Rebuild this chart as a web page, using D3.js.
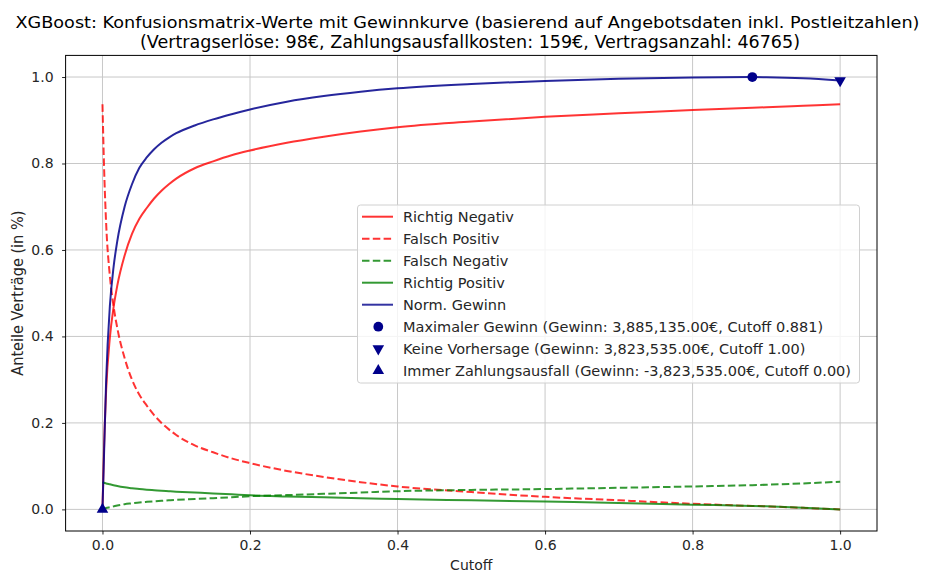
<!DOCTYPE html>
<html><head><meta charset="utf-8">
<script src="https://cdn.jsdelivr.net/npm/d3@7"></script>
<style>
html,body{margin:0;padding:0;background:#fff;}
svg{display:block;font-family:"DejaVu Sans",sans-serif;}
</style></head>
<body><svg id="c" width="926" height="572"></svg>
<script>
// ---- data ----
const titleLines = ["XGBoost: Konfusionsmatrix-Werte mit Gewinnkurve (basierend auf Angebotsdaten inkl. Postleitzahlen)",
                    "(Vertragserlöse: 98€, Zahlungsausfallkosten: 159€, Vertragsanzahl: 46765)"];
const xLabel = "Cutoff";
const yLabel = "Anteile Verträge (in %)";
const xTicks = [0.0, 0.2, 0.4, 0.6, 0.8, 1.0];
const yTicks = [0.0, 0.2, 0.4, 0.6, 0.8, 1.0];

const cutoff = [0, 0.002, 0.005, 0.01, 0.015, 0.02, 0.03, 0.04, 0.05, 0.06, 0.07, 0.08, 0.09, 0.1, 0.125, 0.15, 0.175, 0.2, 0.25, 0.3, 0.35, 0.4, 0.5, 0.6, 0.7, 0.8, 0.881, 0.9, 0.95, 1.0];
const richtigNegativ = [0, 0.137, 0.277, 0.397, 0.467, 0.517, 0.587, 0.637, 0.672, 0.697, 0.719, 0.737, 0.752, 0.765, 0.789, 0.805, 0.819, 0.83, 0.848, 0.862, 0.874, 0.884, 0.897, 0.908, 0.916, 0.924, 0.929, 0.93, 0.9335, 0.937];
const falschPositiv = [0.937, 0.80, 0.66, 0.54, 0.47, 0.42, 0.35, 0.30, 0.265, 0.24, 0.218, 0.20, 0.185, 0.172, 0.148, 0.132, 0.118, 0.107, 0.089, 0.075, 0.063, 0.053, 0.04, 0.029, 0.021, 0.013, 0.008, 0.007, 0.0035, 0.0];
const falschNegativ = [0, 0.0015, 0.003, 0.005, 0.007, 0.009, 0.012, 0.014, 0.016, 0.0175, 0.0188, 0.020, 0.021, 0.022, 0.024, 0.026, 0.028, 0.0305, 0.033, 0.036, 0.039, 0.042, 0.045, 0.047, 0.050, 0.053, 0.056, 0.057, 0.060, 0.064];
const richtigPositiv = [0.063, 0.0615, 0.060, 0.058, 0.056, 0.054, 0.051, 0.049, 0.047, 0.0455, 0.0443, 0.043, 0.042, 0.041, 0.039, 0.037, 0.0348, 0.0325, 0.030, 0.028, 0.026, 0.024, 0.021, 0.018, 0.015, 0.011, 0.008, 0.007, 0.004, 0.0];
const normGewinn = [0, 0.12, 0.30, 0.47, 0.56, 0.62, 0.70, 0.752, 0.79, 0.814, 0.833, 0.848, 0.86, 0.87, 0.888, 0.902, 0.914, 0.925, 0.943, 0.956, 0.966, 0.974, 0.984, 0.991, 0.996, 0.999, 1.0, 0.9995, 0.997, 0.992];

const markerNames = ["Maximaler Gewinn (Gewinn: 3,885,135.00€, Cutoff 0.881)",
                     "Keine Vorhersage (Gewinn: 3,823,535.00€, Cutoff 1.00)",
                     "Immer Zahlungsausfall (Gewinn: -3,823,535.00€, Cutoff 0.00)"];
const markerX = [0.881, 1.0, 0.0];
const markerY = [1.0, 0.992, 0.0];
const markerShapes = ["circle", "triDown", "triUp"];

const seriesNames = ["Richtig Negativ", "Falsch Positiv", "Falsch Negativ", "Richtig Positiv", "Norm. Gewinn"];
const seriesValues = [richtigNegativ, falschPositiv, falschNegativ, richtigPositiv, normGewinn];
const seriesColors = ["#ff0000", "#ff0000", "#008000", "#008000", "#00008b"];
const seriesDashed = [false, true, true, false, false];

// ---- layout ----
const svg = d3.select("#c");
const L = 65.6, R = 877, T = 55.4, B = 531;
const x = d3.scaleLinear().domain([-0.05, 1.05]).range([L, R]);
const y = d3.scaleLinear().domain([-0.05, 1.05]).range([B, T]);

// grid
const g = svg.append("g");
g.selectAll("line.vg").data(xTicks).join("line")
  .attr("x1", d => x(d)).attr("x2", d => x(d)).attr("y1", T).attr("y2", B)
  .attr("stroke", "#c8c8c8").attr("stroke-width", 1);
g.selectAll("line.hg").data(yTicks).join("line")
  .attr("y1", d => y(d)).attr("y2", d => y(d)).attr("x1", L).attr("x2", R)
  .attr("stroke", "#c8c8c8").attr("stroke-width", 1);

// axes
const fmt = d3.format(".1f");
const xa = svg.append("g").attr("transform", `translate(0,${B})`)
  .call(d3.axisBottom(x).tickValues(xTicks).tickFormat(fmt).tickSize(3.5).tickPadding(6));
const ya = svg.append("g").attr("transform", `translate(${L},0)`)
  .call(d3.axisLeft(y).tickValues(yTicks).tickFormat(fmt).tickSize(3.5).tickPadding(8.5));
[xa, ya].forEach(a => {
  a.select(".domain").remove();
  a.selectAll("text").attr("font-size", 14).attr("fill", "#262626").attr("font-family", "DejaVu Sans");
  a.selectAll("line").attr("stroke", "#262626");
});

// lines
const lineGen = d3.line().x((d, i) => x(cutoff[i])).y(d => y(d)).curve(d3.curveMonotoneX);
seriesValues.forEach((vals, k) => {
  svg.append("path").datum(vals)
    .attr("d", lineGen)
    .attr("fill", "none")
    .attr("stroke", seriesColors[k])
    .attr("stroke-opacity", k === 4 ? 0.85 : 0.8)
    .attr("stroke-width", 2)
    .attr("stroke-dasharray", seriesDashed[k] ? "7.5,3.3" : null);
});

// markers
const sym = {circle: d3.symbolCircle, triDown: d3.symbolTriangle, triUp: d3.symbolTriangle};
function drawMarker(sel, shape, cx, cy) {
  const s = sel.append("path")
    .attr("d", d3.symbol().type(sym[shape]).size(shape === "circle" ? 75 : 58)())
    .attr("fill", "#00008b");
  s.attr("transform", `translate(${cx},${cy})` + (shape === "triDown" ? " rotate(180)" : ""));
}
markerNames.forEach((n, i) => drawMarker(svg, markerShapes[i], x(markerX[i]), y(markerY[i])));

// frame
svg.append("rect").attr("x", L).attr("y", T).attr("width", R - L).attr("height", B - T)
  .attr("fill", "none").attr("stroke", "#000").attr("stroke-width", 1);

// titles
svg.append("text").attr("x", 467.5).attr("y", 28).attr("text-anchor", "middle")
  .attr("font-size", 16.5).attr("fill", "#000").attr("textLength", 904).attr("lengthAdjust", "spacingAndGlyphs")
  .text(titleLines[0]);
svg.append("text").attr("x", 470).attr("y", 47.7).attr("text-anchor", "middle")
  .attr("font-size", 17.5).attr("fill", "#000").attr("textLength", 660).attr("lengthAdjust", "spacingAndGlyphs")
  .text(titleLines[1]);

// axis labels
svg.append("text").attr("x", (L + R) / 2).attr("y", 569.5).attr("text-anchor", "middle")
  .attr("font-size", 14).attr("fill", "#262626").text(xLabel);
svg.append("text").attr("transform", `translate(23,${(T + B) / 2}) rotate(-90)`).attr("text-anchor", "middle")
  .attr("font-size", 15).attr("fill", "#262626").attr("textLength", 165).attr("lengthAdjust", "spacingAndGlyphs")
  .text(yLabel);

// legend
const lg = svg.append("g");
lg.append("rect").attr("x", 357.5).attr("y", 205).attr("width", 502).attr("height", 178)
  .attr("rx", 3).attr("fill", "#fff").attr("fill-opacity", 0.8).attr("stroke", "#d0d0d0").attr("stroke-width", 1);
const rowY = i => 216.7 + i * 22;
seriesNames.forEach((n, i) => {
  lg.append("line").attr("x1", 362).attr("x2", 393).attr("y1", rowY(i)).attr("y2", rowY(i))
    .attr("stroke", seriesColors[i]).attr("stroke-opacity", 0.8).attr("stroke-width", 2)
    .attr("stroke-dasharray", seriesDashed[i] ? "7.5,3.3" : null);
  lg.append("text").attr("x", 403).attr("y", rowY(i)).attr("dy", "0.35em")
    .attr("font-size", 14.5).attr("fill", "#262626").text(n);
});
markerNames.forEach((n, i) => {
  const yy = rowY(i + 5);
  drawMarker(lg, markerShapes[i], 378.3, yy);
  lg.append("text").attr("x", 403).attr("y", yy).attr("dy", "0.35em")
    .attr("font-size", 14.5).attr("fill", "#262626").text(n);
});
</script></body></html>
